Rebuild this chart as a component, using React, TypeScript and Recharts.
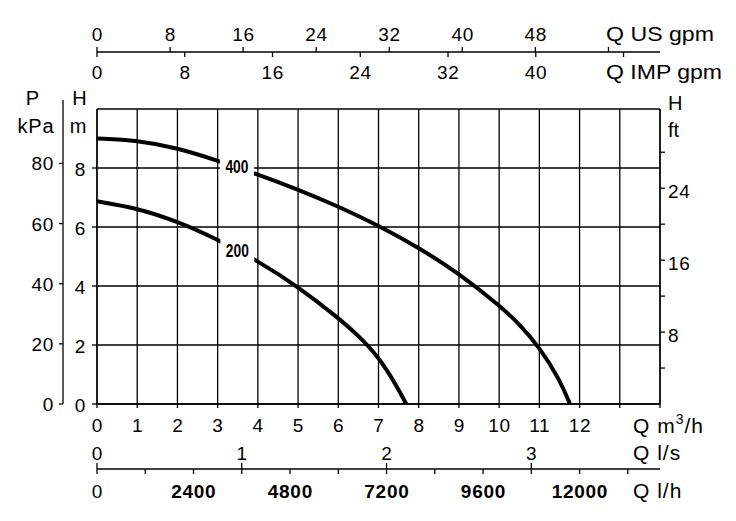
import React from 'react';
import { ComposedChart, Line, XAxis, YAxis, CartesianGrid, ReferenceDot } from 'recharts';

// pump curves, flow in m3/h, head in m
const flow400 = [0, 1, 2, 3, 4, 5, 6, 7, 8, 9, 10, 10.5, 11, 11.5, 11.76];
const head400 = [9.0, 8.94, 8.68, 8.25, 7.78, 7.27, 6.7, 6.05, 5.3, 4.43, 3.35, 2.72, 1.92, 0.85, 0];
const flow200 = [0, 1, 2, 3, 4, 5, 6, 6.5, 7, 7.45, 7.69];
const head200 = [6.87, 6.64, 6.19, 5.58, 4.85, 3.98, 2.92, 2.32, 1.6, 0.62, 0];

// axis ticks
const m3hTicks = [0, 1, 2, 3, 4, 5, 6, 7, 8, 9, 10, 11, 12, 13, 14];
const lsTicks = [0, 1, 2, 3];
const lhTicks = [0, 1200, 2400, 3600, 4800, 6000, 7200, 8400, 9600, 10800, 12000, 13200];
const lhLabels = [0, 2400, 4800, 7200, 9600, 12000];
const usTicks = [0, 8, 16, 24, 32, 40, 48, 56];
const usLabels = [0, 8, 16, 24, 32, 40, 48];
const impTicks = [0, 8, 16, 24, 32, 40, 48];
const impLabels = [0, 8, 16, 24, 32, 40];
const mTicks = [0, 2, 4, 6, 8, 10];
const kpaTicks = [0, 20, 40, 60, 80];
const ftTicks = [4, 8, 12, 16, 20, 24, 28];
const ftLabels = [8, 16, 24];

// unit conversions
const Q_MAX = 14;
const H_MAX = 10;
const US_GPM = 4.403;
const IMP_GPM = 3.666;
const KPA = 9.81;
const FT = 3.281;

const data400 = flow400.map((q, i) => ({ q, h: head400[i] }));
const data200 = flow200.map((q, i) => ({ q, h: head200[i] }));
// invisible helper series so that the secondary axes get a scale
const anchor = [{ q: 0, h: 0 }, { q: 1, h: 1 }];

const FONT = "'Liberation Sans', Arial, Helvetica, sans-serif";
const INK = '#000';
const SW = 1.3;
const LS = 0.7; // the scanned lettering is a bit wider than Arial

const num = { fontSize: 19, fontFamily: FONT, fill: INK, letterSpacing: LS };

const M3hTick = ({ x, y, payload }: any) => (
  <g>
    <line x1={x} x2={x} y1={y} y2={y + 4} stroke={INK} strokeWidth={SW} />
    {payload.value <= 12 && (
      <text x={x + LS / 2} y={y + 28} textAnchor="middle" {...num}>{payload.value}</text>
    )}
  </g>
);

const LsTick = ({ x, y, payload }: any) => (
  <g>
    <line x1={x} x2={x} y1={y + 29} y2={y + 35} stroke={INK} strokeWidth={SW} />
    <text x={x + LS / 2} y={y + 26} textAnchor="middle" {...num}>{payload.value}</text>
  </g>
);

const LhTick = ({ x, y, payload }: any) => (
  <g>
    <line x1={x} x2={x} y1={y} y2={y + 5} stroke={INK} strokeWidth={SW} />
    {lhLabels.includes(payload.value) && (
      <text x={x + LS / 2} y={y + 29} textAnchor="middle" {...num} fontWeight={payload.value === 0 ? 400 : 700}>{payload.value}</text>
    )}
  </g>
);

const UsTick = ({ x, y, payload }: any) => (
  <g>
    <line x1={x} x2={x} y1={y - 5} y2={y} stroke={INK} strokeWidth={SW} />
    {usLabels.includes(payload.value) && (
      <text x={x + LS / 2} y={y - 11.5} textAnchor="middle" {...num}>{payload.value}</text>
    )}
  </g>
);

const ImpTick = ({ x, y, payload }: any) => (
  <g>
    <line x1={x} x2={x} y1={y - 57} y2={y - 52} stroke={INK} strokeWidth={SW} />
    {impLabels.includes(payload.value) && (
      <text x={x + LS / 2} y={y - 30} textAnchor="middle" {...num}>{payload.value}</text>
    )}
  </g>
);

const MTick = ({ x, y, payload }: any) =>
  payload.value === 10 ? <g /> : (
    <g>
      <line x1={x - 5} x2={x} y1={y} y2={y} stroke={INK} strokeWidth={SW} />
      <text x={x - 11} y={y + 7.5} textAnchor="end" {...num}>{payload.value}</text>
    </g>
  );

const KpaTick = ({ x, y, payload }: any) => (
  <g>
    <line x1={x - 4} x2={x} y1={y} y2={y} stroke={INK} strokeWidth={SW} />
    <text x={x - 9} y={y + 7} textAnchor="end" {...num}>{payload.value}</text>
  </g>
);

const FtTick = ({ x, y, payload }: any) => (
  <g>
    <line x1={x} x2={x + 5} y1={y} y2={y} stroke={INK} strokeWidth={SW} />
    {ftLabels.includes(payload.value) && (
      <text x={x + 8} y={y + 10} {...num}>{payload.value}</text>
    )}
  </g>
);

const title = (render: (vb: any) => React.ReactNode) => ({
  content: (props: any) => render(props.viewBox),
});

const curveTag = (text: string) => ({ cx, cy }: any) => (
  <g>
    <rect x={cx - 17} y={cy - 12} width={34} height={25} fill="#fff" />
    <text x={cx} y={cy + 6.5} textAnchor="middle" fontSize={18.5} fontFamily={FONT} fontWeight={700}
      textLength={23} lengthAdjust="spacingAndGlyphs" fill={INK}>{text}</text>
  </g>
);

const T = { fontFamily: FONT, fill: INK };

const Hidden = (props: any) => (
  <Line {...props} data={anchor} dataKey="h" stroke="none" strokeWidth={0} dot={false} activeDot={false}
    legendType="none" isAnimationActive={false} />
);

export default function App() {
  return (
    <div style={{ position: 'absolute', left: 0, top: 0, width: 736, height: 521, background: '#fff' }}>
      <ComposedChart width={736} height={521} margin={{ top: 0, right: 0, bottom: 12, left: 0 }}>
        <CartesianGrid xAxisId="a_m3h" yAxisId="a_m" stroke={INK} strokeWidth={SW} fill="none" />

        <XAxis
          xAxisId="a_m3h" dataKey="q" type="number" orientation="bottom" height={30}
          domain={[0, Q_MAX]} ticks={m3hTicks} interval={0}
          tickSize={0} tickMargin={0} tickLine={false}
          axisLine={{ stroke: INK, strokeWidth: SW }} tick={M3hTick}
          label={title((vb) => (
            <text x={vb.x + vb.width - 27} y={vb.y + 28.5} fontSize={21} {...T} letterSpacing={1}>
              Q m<tspan fontSize={14} dy={-9}>3</tspan><tspan dy={9}>/h</tspan>
            </text>
          ))}
        />
        <XAxis
          xAxisId="b_ls" dataKey="q" type="number" orientation="bottom" height={35}
          domain={[0, Q_MAX / 3.6]} ticks={lsTicks} interval={0}
          tickSize={0} tickMargin={0} tickLine={false} axisLine={false} tick={LsTick}
          label={title((vb) => (
            <text x={vb.x + vb.width - 27} y={vb.y + 26} fontSize={21} {...T} letterSpacing={1}>Q l/s</text>
          ))}
        />
        <XAxis
          xAxisId="c_lh" dataKey="q" type="number" orientation="bottom" height={40}
          domain={[0, Q_MAX * 1000]} ticks={lhTicks} interval={0}
          tickSize={0} tickMargin={0} tickLine={false}
          axisLine={{ stroke: INK, strokeWidth: SW }} tick={LhTick}
          label={title((vb) => (
            <text x={vb.x + vb.width - 27} y={vb.y + 29} fontSize={21} {...T} letterSpacing={1}>Q l/h</text>
          ))}
        />
        <XAxis
          xAxisId="a_imp" dataKey="q" type="number" orientation="top" height={57}
          domain={[0, Q_MAX * IMP_GPM]} ticks={impTicks} interval={0}
          tickSize={0} tickMargin={0} tickLine={false} axisLine={false} tick={ImpTick}
          label={title((vb) => (
            <text x={vb.x + vb.width - 54} y={vb.y + 27.3} fontSize={21} {...T}
              textLength={116} lengthAdjust="spacingAndGlyphs">Q IMP gpm</text>
          ))}
        />
        <XAxis
          xAxisId="b_us" dataKey="q" type="number" orientation="top" height={52}
          domain={[0, Q_MAX * US_GPM]} ticks={usTicks} interval={0}
          tickSize={0} tickMargin={0} tickLine={false}
          axisLine={{ stroke: INK, strokeWidth: SW }} tick={UsTick}
          label={title((vb) => (
            <text x={vb.x + vb.width - 54} y={vb.y + vb.height - 11.5} fontSize={21} {...T}
              textLength={108} lengthAdjust="spacingAndGlyphs">Q US gpm</text>
          ))}
        />

        <YAxis
          yAxisId="a_m" type="number" orientation="left" width={34}
          domain={[0, H_MAX]} ticks={mTicks} interval={0}
          tickSize={0} tickMargin={0} tickLine={false}
          axisLine={{ stroke: INK, strokeWidth: SW }} tick={MTick}
          label={title((vb) => (
            <g>
              <text x={vb.x + 16.5} y={vb.y - 4} textAnchor="middle" fontSize={20} {...T}>H</text>
              <text x={vb.x + 15} y={vb.y + 24} textAnchor="middle" fontSize={20} {...T}>m</text>
            </g>
          ))}
        />
        <YAxis
          yAxisId="b_kpa" type="number" orientation="left" width={63}
          domain={[0, H_MAX * KPA]} ticks={kpaTicks} interval={0}
          tickSize={0} tickMargin={0} tickLine={false}
          axisLine={{ stroke: INK, strokeWidth: SW }} tick={KpaTick}
          label={title((vb) => (
            <g>
              <line x1={vb.x + vb.width} x2={vb.x + vb.width} y1={vb.y - 9} y2={vb.y} stroke={INK} strokeWidth={SW} />
              <text x={vb.x + 32.5} y={vb.y - 4} textAnchor="middle" fontSize={20} {...T}>P</text>
              <text x={vb.x + 36} y={vb.y + 24} textAnchor="middle" fontSize={20} {...T} letterSpacing={0.8}>kPa</text>
            </g>
          ))}
        />
        <YAxis
          yAxisId="c_ft" type="number" orientation="right" width={76}
          domain={[0, H_MAX * FT]} ticks={ftTicks} interval={0}
          tickSize={0} tickMargin={0} tickLine={false}
          axisLine={{ stroke: INK, strokeWidth: SW }} tick={FtTick}
          label={title((vb) => (
            <g>
              <text x={vb.x + 8} y={vb.y + 1} fontSize={20} {...T}>H</text>
              <text x={vb.x + 8} y={vb.y + 27.5} fontSize={20} {...T}>ft</text>
            </g>
          ))}
        />

        {Hidden({ xAxisId: 'b_ls', yAxisId: 'b_kpa' })}
        {Hidden({ xAxisId: 'c_lh', yAxisId: 'c_ft' })}
        {Hidden({ xAxisId: 'a_imp', yAxisId: 'a_m' })}
        {Hidden({ xAxisId: 'b_us', yAxisId: 'a_m' })}

        <Line xAxisId="a_m3h" yAxisId="a_m" data={data400} dataKey="h" type="basis"
          stroke={INK} strokeWidth={4} dot={false} activeDot={false} isAnimationActive={false} />
        <Line xAxisId="a_m3h" yAxisId="a_m" data={data200} dataKey="h" type="basis"
          stroke={INK} strokeWidth={4} dot={false} activeDot={false} isAnimationActive={false} />

        <ReferenceDot xAxisId="a_m3h" yAxisId="a_m" x={3.48} y={8.05} shape={curveTag('400')} />
        <ReferenceDot xAxisId="a_m3h" yAxisId="a_m" x={3.49} y={5.22} shape={curveTag('200')} />
      </ComposedChart>
    </div>
  );
}
